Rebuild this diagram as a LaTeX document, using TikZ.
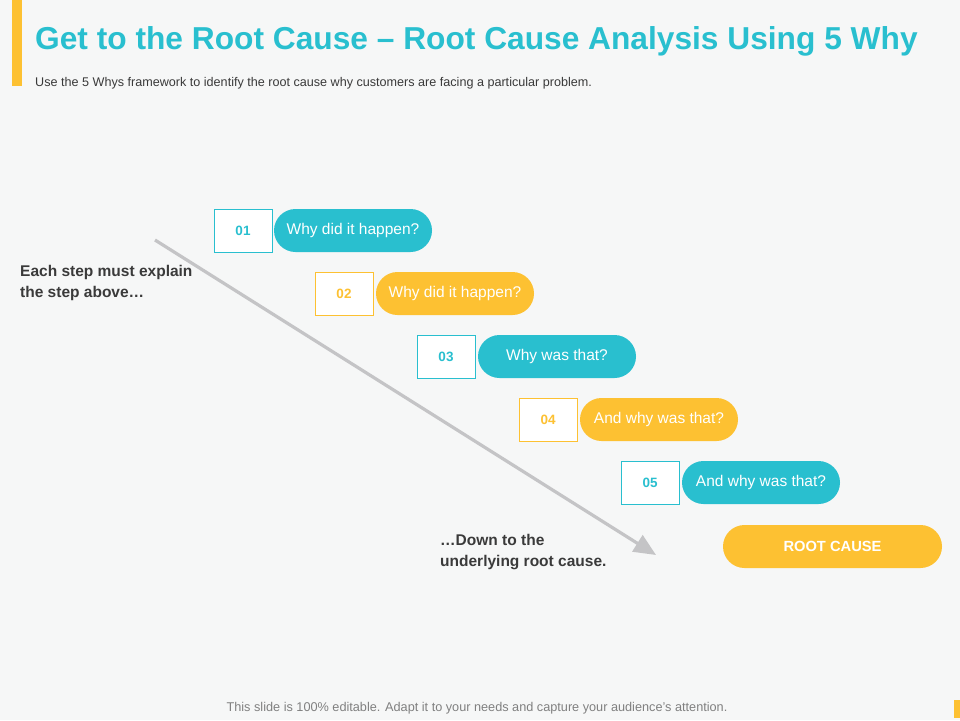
\documentclass[tikz,border=0pt]{standalone}
\usepackage{fontspec}
\setmainfont{Liberation Sans}
\usetikzlibrary{arrows.meta,shapes.misc}
\definecolor{teal1}{HTML}{29BFCF}
\definecolor{yel1}{HTML}{FDC132}
\definecolor{txt}{HTML}{3A3A3A}
\definecolor{bgc}{HTML}{F6F7F7}
\definecolor{arr}{HTML}{C4C4C6}
\begin{document}
\begin{tikzpicture}[x=1pt,y=-1pt,
  numbox/.style={draw=#1,fill=white,line width=0.8pt,minimum width=58pt,minimum height=43pt,inner sep=0pt,text=#1,font=\fontsize{13.5}{15}\selectfont\bfseries},
  pill/.style={fill=#1,rounded rectangle,minimum width=158pt,minimum height=43pt,inner sep=0pt,text=white,font=\fontsize{15.5}{17}\selectfont},
  sidetext/.style={anchor=north west,align=left,text=txt,font=\fontsize{15.5}{21}\selectfont\bfseries,inner sep=0pt}
]
\useasboundingbox (0,0) rectangle (960,720);
\fill[bgc] (0,0) rectangle (960,720);
\fill[yel1] (12,0) rectangle (22,86);
\fill[yel1] (954,700) rectangle (960,718);
\node[anchor=base west,inner sep=0pt,text=teal1,font=\fontsize{31.7}{34}\selectfont\bfseries] (title) at (35,49) {Get to the Root Cause – Root Cause Analysis Using 5 Why};
\node[anchor=base west,inner sep=0pt,text=txt,font=\fontsize{12.6}{14}\selectfont] (sub) at (35,86) {Use the 5 Whys framework to identify the root cause why customers are facing a particular problem.};
% arrow
\coordinate (as) at (155,240);
\coordinate (ae) at (656,555);
\draw[arr,line width=3.2pt,-{Triangle[length=22pt,width=19pt]}] (as) -- (ae);
% steps
\node[numbox=teal1] (n1) at (243,230.5) {01};
\node[pill=teal1] (p1) at (353,230.5) {Why did it happen?};
\node[numbox=yel1] (n2) at (344,293.5) {02};
\node[pill=yel1] (p2) at (455,293.5) {Why did it happen?};
\node[numbox=teal1] (n3) at (446,356.5) {03};
\node[pill=teal1] (p3) at (557,356.5) {Why was that?};
\node[numbox=yel1] (n4) at (548,419.5) {04};
\node[pill=yel1] (p4) at (659,419.5) {And why was that?};
\node[numbox=teal1] (n5) at (650,482.5) {05};
\node[pill=teal1] (p5) at (761,482.5) {And why was that?};
\node[pill=yel1,minimum width=219pt,font=\fontsize{14.7}{16}\selectfont\bfseries] (rc) at (832.5,546.5) {ROOT CAUSE};
% side texts
\node[sidetext] (t1) at (20,265) {Each step must explain\\the step above…};
\node[sidetext] (t2) at (440,534) {…Down to the\\underlying root cause.};
\node[anchor=base,inner sep=0pt,text=gray,font=\fontsize{12.7}{14}\selectfont] (foot) at (477,711) {This slide is 100\% editable. Adapt it to your needs and capture your audience’s attention.};
\end{tikzpicture}
\end{document}
